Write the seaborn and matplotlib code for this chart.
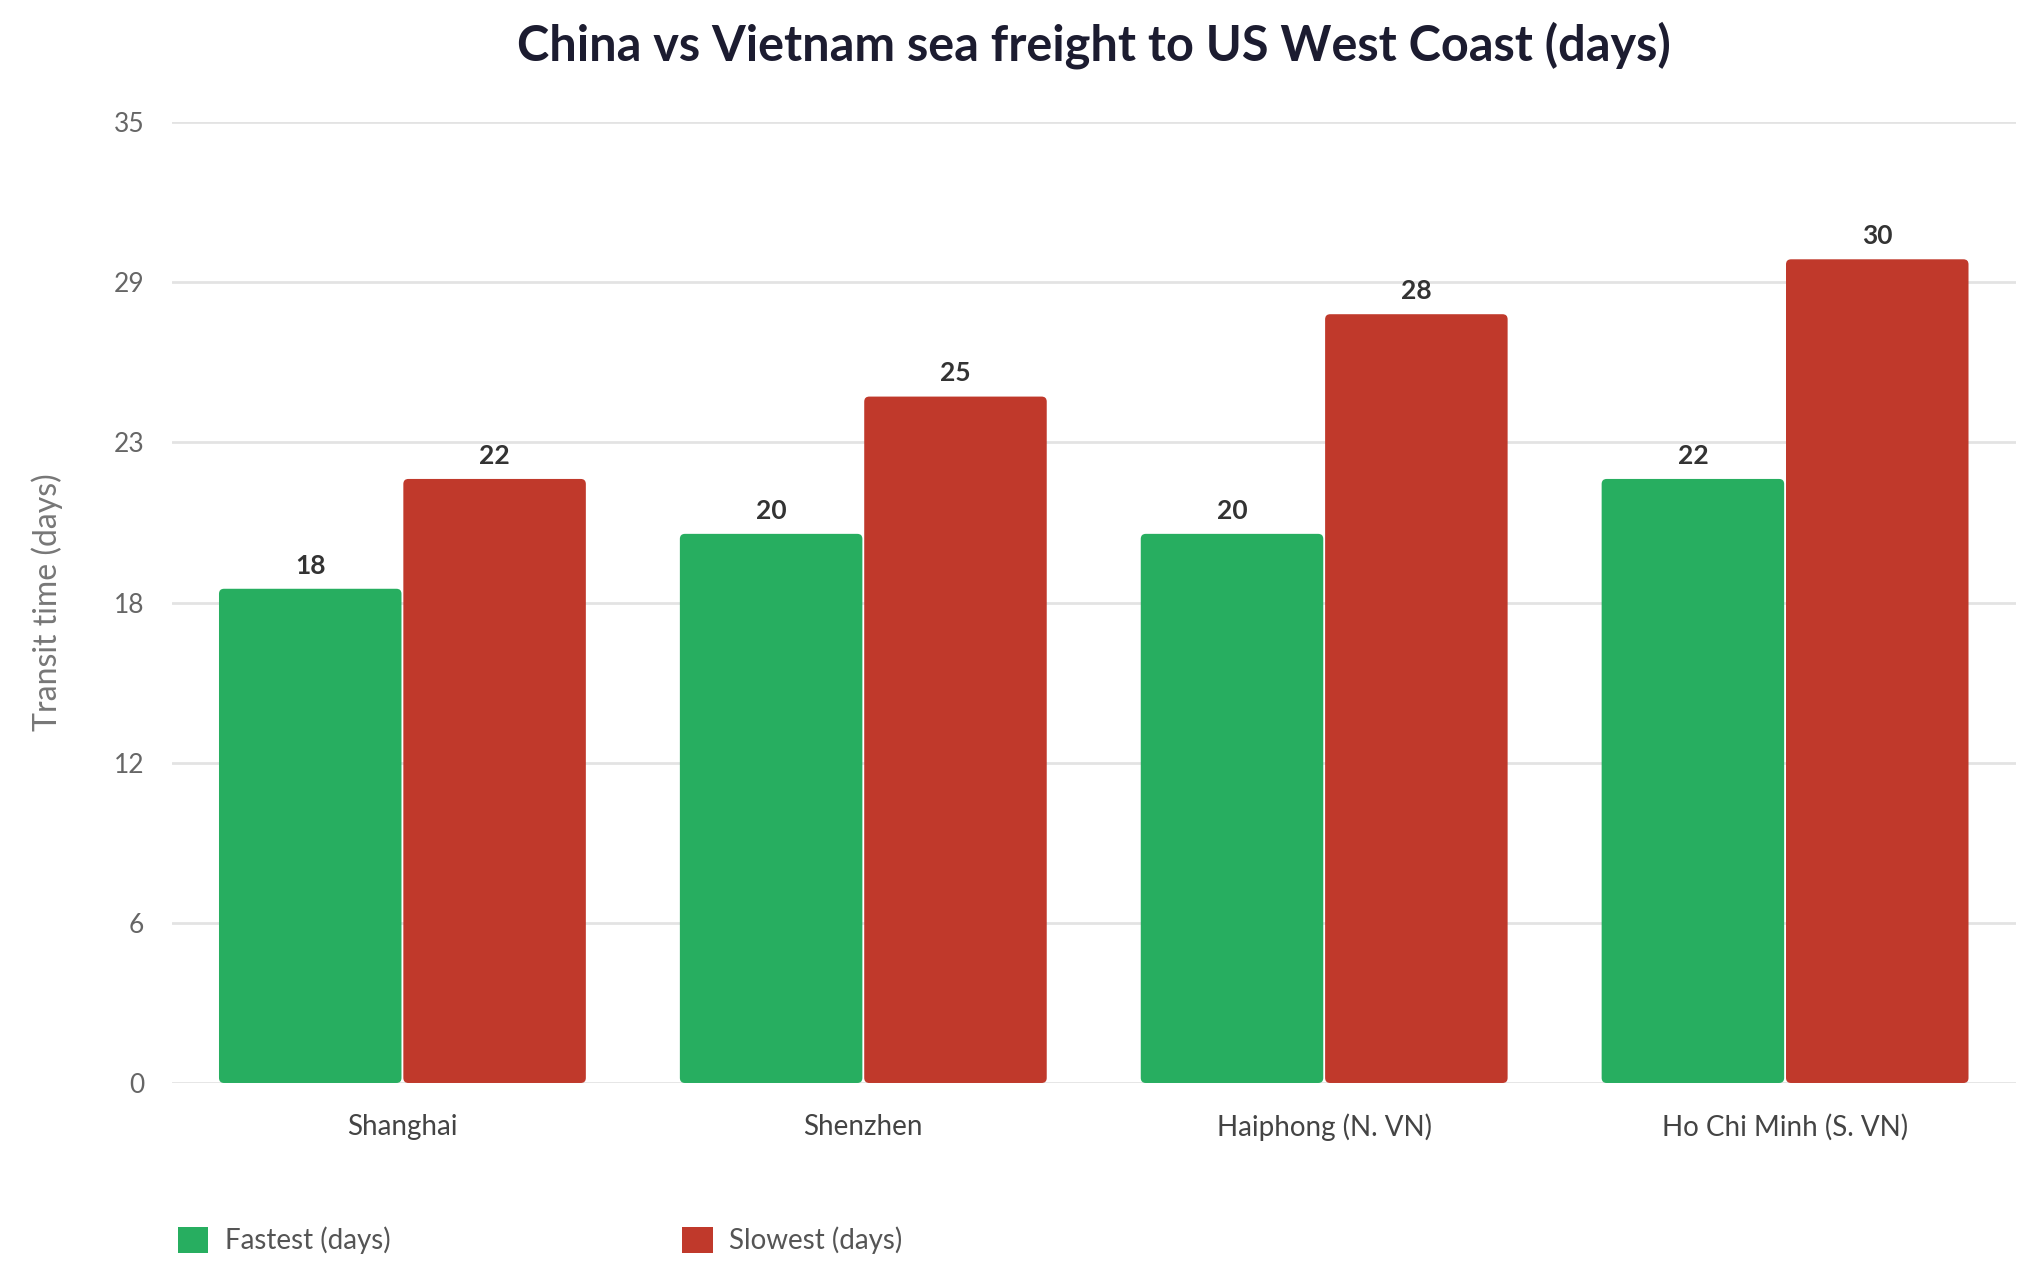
import numpy as np
import pandas as pd
import seaborn as sns
import matplotlib.pyplot as plt
from matplotlib.patches import FancyBboxPatch, Patch

ports = ['Shanghai', 'Shenzhen', 'Haiphong (N. VN)', 'Ho Chi Minh (S. VN)']
fastest = [18, 20, 20, 22]
slowest = [22, 25, 28, 30]
series = ['Fastest (days)', 'Slowest (days)']
colors = ['#27AE60', '#C0392B']
ytick_labels = ['0', '6', '12', '18', '23', '29', '35']

df = pd.DataFrame({'port': ports * 2,
                   'series': [series[0]] * 4 + [series[1]] * 4,
                   'days': fastest + slowest})

sns.set_theme(style='white')
plt.rcParams['font.family'] = ['Lato', 'DejaVu Sans']

fig = plt.figure(figsize=(20.4, 12.75), dpi=100)
ax = fig.add_axes([0.0843, 0.1506, 0.9037, 0.7537])

sns.barplot(data=df, x='port', y='days', hue='series', palette=colors,
            width=0.8, saturation=1, ax=ax, legend=False)

for cont in ax.containers:
    ax.bar_label(cont, labels=[f'{v:.0f}' for v in cont.datavalues], padding=8,
                 fontsize=19, fontweight='bold', color='#333333')

ax.set_ylim(0, 35)
ax.set_xlim(-0.5, 3.5)

# round the bar corners a little
aspect = (0.9037 * 2040 / 4) / (0.7537 * 1275 / 35)
for p in list(ax.patches):
    x, y = p.get_x(), p.get_y()
    w, h = p.get_width(), p.get_height()
    rb = FancyBboxPatch((x + 0.002, y), w - 0.004, h,
                        boxstyle='round,pad=0,rounding_size=0.011',
                        mutation_aspect=aspect, facecolor=p.get_facecolor(),
                        edgecolor='none', zorder=p.get_zorder())
    p.set_visible(False)
    ax.add_patch(rb)

ax.set_yticks(np.linspace(0, 35, 7))
ax.set_yticklabels(ytick_labels)
ax.yaxis.grid(True, color='#e3e3e3', linewidth=2)
ax.set_axisbelow(True)
for s in ax.spines.values():
    s.set_visible(False)
ax.tick_params(axis='y', labelsize=19, labelcolor='#666666', pad=20, length=0)
ax.tick_params(axis='x', labelsize=20, labelcolor='#444444', pad=22, length=0)
ax.set_xlabel('')
ax.set_ylabel('Transit time (days)', fontsize=23, color='#777777', labelpad=36)

ax.set_title('China vs Vietnam sea freight to US West Coast (days)',
             fontsize=35, fontweight='bold', color='#1c1c30', pad=44)

handles = [Patch(facecolor=c, edgecolor='none') for c in colors]
leg = ax.legend(handles, series, loc='lower left', bbox_to_anchor=(-0.003, -0.19),
                ncol=2, frameon=False, fontsize=20, handlelength=1.1,
                handleheight=1.1, columnspacing=10.5, handletextpad=0.6,
                borderaxespad=0)
for t in leg.get_texts():
    t.set_color('#555555')

fig.savefig('out.png', dpi=100, facecolor='white')
